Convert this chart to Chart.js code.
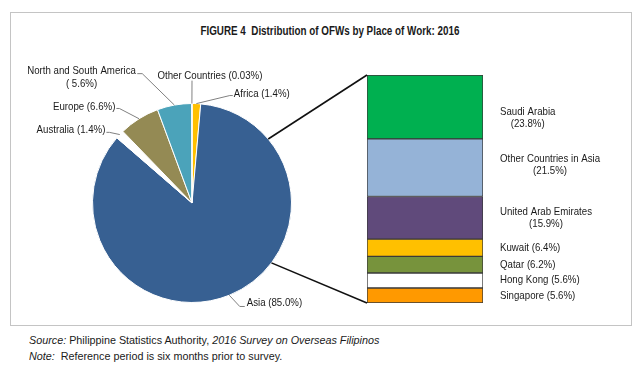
<!DOCTYPE html>
<html><head><meta charset="utf-8">
<script src="https://cdn.jsdelivr.net/npm/chart.js@4/dist/chart.umd.min.js"></script>
<style>
html,body{margin:0;padding:0;background:#fff;}
#wrap{position:relative;width:640px;height:370px;overflow:hidden;background:#fff;font-family:'Liberation Sans',Arial,sans-serif;color:#1a1a1a;}
#frame{position:absolute;left:10px;top:12px;width:620px;height:312px;border:1px solid #c4c4c4;}
#title{position:absolute;left:0;top:24px;width:660px;text-align:center;font-size:12px;font-weight:bold;line-height:14px;}
#title span{display:inline-block;transform:scaleX(0.82);transform-origin:center;white-space:nowrap;}
.foot{position:absolute;left:29px;font-size:11px;line-height:13px;white-space:nowrap;transform:scaleX(0.98);transform-origin:left center;}
canvas{position:absolute;}
</style>
</head><body>
<div id="wrap">
  <div id="frame"></div>
  <div id="title"><span>FIGURE 4&nbsp; Distribution of OFWs by Place of Work: 2016</span></div>
  <canvas id="pie" width="318" height="270" style="left:12px;top:50px;width:318px;height:270px"></canvas>
  <canvas id="bar" width="382" height="265" style="left:250px;top:55px;width:382px;height:265px"></canvas>
  <div class="foot" style="top:334px"><i>Source:</i> Philippine Statistics Authority, <i>2016 Survey on Overseas Filipinos</i></div>
  <div class="foot" style="top:350px"><i>Note:</i>&nbsp; Reference period is six months prior to survey.</div>
</div>
<script>
// ---- data ----
const pieCategories = ['Africa', 'Asia', 'Australia', 'Europe', 'North and South America', 'Other Countries'];
const pieValues = [1.4, 85.0, 1.4, 6.6, 5.6, 0.03];
const pieValueText = ['1.4', '85.0', '1.4', '6.6', ' 5.6', '0.03'];
const asiaCategories = ['Saudi Arabia', 'Other Countries in Asia', 'United Arab Emirates', 'Kuwait', 'Qatar', 'Hong Kong', 'Singapore'];
const asiaValues = [23.8, 21.5, 15.9, 6.4, 6.2, 5.6, 5.6];
const asiaValueText = ['23.8', '21.5', '15.9', '6.4', '6.2', '5.6', '5.6'];

// ---- styles ----
const pieColors = ['#FFC000', '#376092', '#FFFFFF', '#948A54', '#4BA3BA', '#A6A6A6'];
const asiaColors = ['#00B050', '#95B3D7', '#604A7B', '#FFC000', '#77933C', '#FFFFFF', '#FF9900'];
const PIE_POS = {left: 12, top: 50};
const BAR_POS = {left: 250, top: 55};
const FONT = "11px 'Liberation Sans', Arial, sans-serif";
const SX = 0.88;

function txt(ctx, s, x, y, align) {
  ctx.save();
  ctx.font = FONT;
  ctx.textBaseline = 'middle';
  ctx.fillStyle = '#1a1a1a';
  const w = ctx.measureText(s).width * SX;
  const lx = align === 'left' ? x : (align === 'right' ? x - w : x - w / 2);
  ctx.translate(lx, y);
  ctx.scale(SX, 1);
  ctx.textAlign = 'left';
  ctx.fillText(s, 0, 0);
  ctx.restore();
  return w;
}
function poly(ctx, pts, color, width) {
  ctx.save();
  ctx.strokeStyle = color; ctx.lineWidth = width;
  ctx.beginPath();
  pts.forEach((p, i) => i ? ctx.lineTo(p[0], p[1]) : ctx.moveTo(p[0], p[1]));
  ctx.stroke();
  ctx.restore();
}

// label layout for the pie (offsets from pie centre, in radius units of 100)
const pieLabelLayout = [
  {tx: 42, ty: -110, align: 'left', lead: [[41, -108], [38, -108]]},          // Africa
  {tx: 55, ty: 100, align: 'left', lead: [[53, 104], [48, 104]]},             // Asia
  {tx: -87, ty: -73, align: 'right', lead: [[-86, -71], [-83, -71]]},         // Australia
  {tx: -77, ty: -97, align: 'right', lead: [[-76, -95], [-73, -95]]},         // Europe
  {tx: -111, ty: -133, align: 'center', two: true, lead: [[-55, -130], [-50, -130]]}, // Americas
  {tx: 18, ty: -128, align: 'center', lead: [[0, -123]]}                      // Other
];

const pieLabelPlugin = {
  id: 'pieLabels',
  afterDraw(chart) {
    const ctx = chart.ctx;
    const els = chart.getDatasetMeta(0).data;
    els.forEach((el, i) => {
      const k = el.outerRadius / 100;
      const cx = el.x, cy = el.y;
      const mid = (el.startAngle + el.endAngle) / 2;
      const ax = cx + el.outerRadius * Math.cos(mid), ay = cy + el.outerRadius * Math.sin(mid);
      const L = pieLabelLayout[i];
      const pts = L.lead.map(p => [cx + p[0] * k, cy + p[1] * k]);
      pts.push([ax, ay]);
      poly(ctx, pts, '#808080', 1);
      const name = pieCategories[i], pct = '(' + pieValueText[i] + '%)';
      if (L.two) {
        txt(ctx, name, cx + L.tx * k, cy + L.ty * k, 'center');
        txt(ctx, pct, cx + L.tx * k, cy + L.ty * k + 13, 'center');
      } else {
        txt(ctx, name + ' ' + pct, cx + L.tx * k, cy + L.ty * k, L.align);
      }
    });
  }
};

const pieChart = new Chart(document.getElementById('pie'), {
  type: 'pie',
  data: {
    labels: pieCategories,
    datasets: [{data: pieValues, backgroundColor: pieColors, borderColor: '#ffffff', borderWidth: 1}]
  },
  options: {
    responsive: false, animation: false, devicePixelRatio: 1,
    layout: {padding: {left: 80, right: 38, top: 53, bottom: 17}},
    plugins: {legend: {display: false}, tooltip: {enabled: false}}
  },
  plugins: [pieLabelPlugin]
});

const barLabelPlugin = {
  id: 'barLabels',
  afterDraw(chart) {
    const ctx = chart.ctx;
    const n = asiaCategories.length;
    // datasets are stacked bottom (last category) to top (first category)
    for (let d = 0; d < n; d++) {
      const i = n - 1 - d;
      const el = chart.getDatasetMeta(d).data[0];
      const top = Math.min(el.y, el.base), bot = Math.max(el.y, el.base);
      const h = bot - top;
      const left = el.x + el.width / 2 + 17;
      const cy = (top + bot) / 2;
      const name = asiaCategories[i], pct = '(' + asiaValueText[i] + '%)';
      if (h > 30) {
        const dy = i === 0 ? 11 : (i === 1 ? -3 : 0);
        ctx.save(); ctx.font = FONT;
        const w1 = ctx.measureText(name).width * SX;
        ctx.restore();
        txt(ctx, name, left + w1 / 2, cy + dy - 6, 'center');
        txt(ctx, pct, left + w1 / 2, cy + dy + 6, 'center');
      } else {
        txt(ctx, name + ' ' + pct, left, cy, 'left');
      }
    }
    // connector lines from the Asia slice to the bar
    const asia = pieChart.getDatasetMeta(0).data[1];
    const px = PIE_POS.left - BAR_POS.left + asia.x, py = PIE_POS.top - BAR_POS.top + asia.y;
    const r = asia.outerRadius;
    const topEl = chart.getDatasetMeta(n - 1).data[0];
    const botEl = chart.getDatasetMeta(0).data[0];
    const a1 = (50 - 90) * Math.PI / 180, a2 = (127 - 90) * Math.PI / 180;
    const bx = topEl.x - topEl.width / 2;
    poly(ctx, [[px + r * Math.cos(a1), py + r * Math.sin(a1)], [bx, Math.min(topEl.y, topEl.base)]], '#111', 1.6);
    poly(ctx, [[px + r * Math.cos(a2), py + r * Math.sin(a2)], [bx, Math.max(botEl.y, botEl.base)]], '#111', 1.6);
  }
};

const barDatasets = asiaCategories.map((c, i) => ({
  label: c, data: [asiaValues[i]], backgroundColor: asiaColors[i],
  borderColor: '#3a3a3a', borderWidth: 1, borderSkipped: false,
  barPercentage: 1, categoryPercentage: 1
})).reverse();

new Chart(document.getElementById('bar'), {
  type: 'bar',
  data: {labels: ['Asia'], datasets: barDatasets},
  options: {
    responsive: false, animation: false, devicePixelRatio: 1,
    layout: {padding: {left: 117, right: 149, top: 20, bottom: 17}},
    scales: {
      x: {stacked: true, display: false},
      y: {stacked: true, display: false, min: 0, max: 85}
    },
    plugins: {legend: {display: false}, tooltip: {enabled: false}}
  },
  plugins: [barLabelPlugin]
});
</script>
</body></html>
